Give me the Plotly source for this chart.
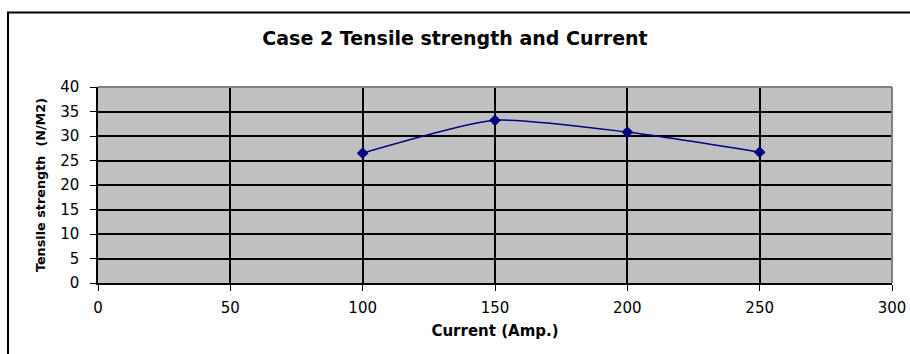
import plotly.graph_objects as go

# Welding current (A) vs. tensile strength (N/M2)
current = [100, 150, 200, 250]
strength = [26.5, 33.2, 30.8, 26.7]

x_ticks = [0, 50, 100, 150, 200, 250, 300]
y_ticks = [0, 5, 10, 15, 20, 25, 30, 35, 40]

W, H = 910, 354
L, R, T, B = 98, 18, 87, 71
pw, ph = W - L - R, H - T - B

fig = go.Figure()
fig.add_trace(go.Scatter(
    x=current, y=strength, mode="lines+markers",
    line=dict(color="#000080", width=1.5, shape="spline", smoothing=0.6),
    marker=dict(symbol="diamond", size=9, color="#000080"),
    showlegend=False, hoverinfo="x+y",
))

tick_font = dict(family="DejaVu Sans", size=15, color="black")

fig.update_layout(
    width=W, height=H,
    margin=dict(l=L, r=R, t=T, b=B, autoexpand=False),
    paper_bgcolor="white",
    plot_bgcolor="#C0C0C0",
    title=dict(text="<b>Case 2 Tensile strength and Current</b>",
               x=0.5, xref="container", xanchor="center",
               y=1 - 38 / H, yref="container", yanchor="middle",
               font=dict(family="DejaVu Sans", size=19, color="black")),
    xaxis=dict(range=[0, 300], tickvals=x_ticks, ticktext=[str(v) for v in x_ticks],
               showgrid=True, gridcolor="black", gridwidth=1.5,
               zeroline=False, showline=True, linecolor="black", linewidth=1.5,
               ticks="outside", ticklen=6, tickcolor="black", tickwidth=1,
               tickfont=tick_font, ticklabelstandoff=4, automargin=False,
               title=dict(text="<b>Current (Amp.)</b>", standoff=10,
                          font=dict(family="DejaVu Sans", size=15, color="black"))),
    yaxis=dict(range=[0, 40], tickvals=y_ticks, ticktext=[str(v) for v in y_ticks],
               showgrid=True, gridcolor="black", gridwidth=1.5,
               zeroline=False, showline=True, linecolor="black", linewidth=1.5,
               ticks="outside", ticklen=6, tickcolor="black", tickwidth=1,
               tickfont=tick_font, ticklabelstandoff=8, automargin=False,
               title=dict(text="<b>Tensile strength  (N/M2)</b>", standoff=12,
                          font=dict(family="DejaVu Sans", size=12.8, color="black"))),
)

# gray plot-area border on top and right
fig.add_shape(type="line", xref="paper", yref="paper", x0=0, x1=1, y0=1, y1=1,
              line=dict(color="#808080", width=2), layer="above")
fig.add_shape(type="line", xref="paper", yref="paper", x0=1, x1=1, y0=0, y1=1,
              line=dict(color="#808080", width=2), layer="above")

# chart frame (left and top edges visible)
fx0 = (8 - L) / pw
fy1 = (H - B - 12.5) / ph
fig.add_shape(type="rect", xref="paper", yref="paper",
              x0=fx0, x1=1.2, y0=-0.8, y1=fy1,
              line=dict(color="black", width=2), fillcolor="rgba(0,0,0,0)", layer="below")

fig.write_html("out.html")
